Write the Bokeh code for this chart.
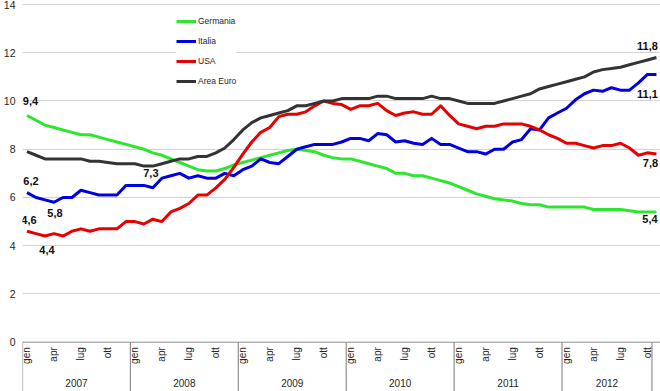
import math
from bokeh.plotting import figure
from bokeh.models import Range1d, FixedTicker, Legend, LegendItem
from bokeh.core.properties import value
from bokeh.embed import file_html
from bokeh.resources import INLINE

# ---------------- data ----------------
years = ["2007", "2008", "2009", "2010", "2011", "2012"]
month_names = ["gen", "feb", "mar", "apr", "mag", "giu",
               "lug", "ago", "set", "ott", "nov", "dic"]
shown_months = ["gen", "apr", "lug", "ott"]
axis_last = ("2012", "ott")          # last category drawn on the axis
y_ticks = [0, 2, 4, 6, 8, 10, 12, 14]

germania = [9.4, 9.2, 9.0, 8.9, 8.8, 8.7, 8.6, 8.6, 8.5, 8.4, 8.3, 8.2,
            8.1, 8.0, 7.85, 7.75, 7.6, 7.45, 7.3, 7.15, 7.1, 7.1, 7.2, 7.35,
            7.45, 7.55, 7.65, 7.75, 7.85, 7.95, 8.0, 7.95, 7.9, 7.75, 7.65, 7.6,
            7.6, 7.5, 7.4, 7.3, 7.2, 7.0, 7.0, 6.9, 6.9, 6.8, 6.7, 6.6,
            6.45, 6.3, 6.15, 6.05, 5.95, 5.9, 5.85, 5.75, 5.7, 5.7, 5.6, 5.6,
            5.6, 5.6, 5.6, 5.5, 5.5, 5.5, 5.5, 5.45, 5.4, 5.4, 5.4]
italia = [6.2, 6.0, 5.9, 5.8, 6.0, 6.0, 6.3, 6.2, 6.1, 6.1, 6.1, 6.5,
          6.5, 6.5, 6.4, 6.8, 6.9, 7.0, 6.8, 6.9, 6.8, 6.8, 7.0, 6.9,
          7.15, 7.3, 7.6, 7.45, 7.4, 7.7, 8.0, 8.1, 8.2, 8.2, 8.2, 8.3,
          8.45, 8.45, 8.35, 8.65, 8.6, 8.3, 8.35, 8.25, 8.2, 8.45, 8.2, 8.2,
          8.05, 7.9, 7.9, 7.8, 8.0, 8.0, 8.3, 8.4, 8.85, 8.8, 9.3, 9.5,
          9.7, 10.05, 10.3, 10.45, 10.4, 10.55, 10.45, 10.45, 10.75, 11.1, 11.1]
usa = [4.6, 4.5, 4.4, 4.5, 4.4, 4.6, 4.7, 4.6, 4.7, 4.7, 4.7, 5.0,
       5.0, 4.9, 5.1, 5.0, 5.4, 5.55, 5.75, 6.1, 6.1, 6.4, 6.75, 7.25,
       7.8, 8.3, 8.7, 8.9, 9.35, 9.45, 9.45, 9.55, 9.8, 10.0, 9.9, 9.85,
       9.65, 9.8, 9.8, 9.9, 9.6, 9.4, 9.5, 9.55, 9.45, 9.45, 9.8, 9.4,
       9.05, 8.95, 8.85, 8.95, 8.95, 9.05, 9.05, 9.05, 8.95, 8.8, 8.6, 8.45,
       8.25, 8.25, 8.15, 8.05, 8.15, 8.15, 8.25, 8.05, 7.75, 7.85, 7.8]
area_euro = [7.9, 7.75, 7.6, 7.6, 7.6, 7.6, 7.6, 7.5, 7.5, 7.45, 7.4, 7.4,
             7.4, 7.3, 7.3, 7.4, 7.5, 7.6, 7.6, 7.7, 7.7, 7.85, 8.05, 8.4,
             8.8, 9.1, 9.3, 9.4, 9.5, 9.6, 9.8, 9.8, 9.9, 10.0, 10.0, 10.1,
             10.1, 10.1, 10.1, 10.2, 10.2, 10.1, 10.1, 10.1, 10.1, 10.2, 10.1, 10.1,
             10.0, 9.9, 9.9, 9.9, 9.9, 10.0, 10.1, 10.2, 10.3, 10.5, 10.6, 10.7,
             10.8, 10.9, 11.0, 11.2, 11.3, 11.35, 11.4, 11.5, 11.6, 11.7, 11.8]

series = [
    ("Germania", germania, "#2ee62e"),
    ("Italia", italia, "#0000e0"),
    ("USA", usa, "#e60000"),
    ("Area Euro", area_euro, "#333333"),
]

# ---------------- categories ----------------
all_periods = [(y, m) for y in years for m in month_names]
categories = all_periods[: all_periods.index(axis_last) + 1]
n_cat = len(categories)

# ---------------- figure ----------------
W, H = 660, 391
Y_TOP, Y_BOTTOM = 14.166, -2.044
unit = (Y_TOP - Y_BOTTOM) / H          # data units per pixel (frame == canvas height)
FONT = value("Liberation Sans")
TXT = "#262626"
AXIS_COL = "#8f8f8f"

p = figure(width=W, height=H, output_backend="svg", toolbar_location=None,
           x_range=Range1d(-0.5, len(germania) - 0.55),
           y_range=Range1d(Y_BOTTOM, Y_TOP),
           x_axis_location=None, tools="",
           min_border_left=0, min_border_right=0,
           min_border_top=0, min_border_bottom=0)
p.outline_line_color = None
p.background_fill_color = "white"
p.border_fill_color = "white"

p.yaxis.ticker = FixedTicker(ticks=y_ticks)
p.yaxis.axis_line_color = None
p.yaxis.major_tick_line_color = None
p.yaxis.minor_tick_line_color = None
p.yaxis.major_tick_out = 0
p.yaxis.major_tick_in = 0
p.yaxis.minor_tick_out = 0
p.yaxis.major_label_text_font = "Liberation Sans"
p.yaxis.major_label_text_font_size = "10.5px"
p.yaxis.major_label_text_color = TXT
p.yaxis.major_label_standoff = 7

p.xgrid.visible = False
p.ygrid.ticker = FixedTicker(ticks=[t for t in y_ticks if t > 0])
p.ygrid.grid_line_color = "#d4d4d4"
p.ygrid.grid_line_width = 1

# category axis line at 0
p.segment(x0=[-0.5], y0=[0], x1=[len(germania) - 0.5], y1=[0],
          line_color=AXIS_COL, line_width=1)

# year separators
sep_x = [i - 0.5 for i, (y, m) in enumerate(categories) if m == "gen"] + [n_cat - 0.5]
p.segment(x0=sep_x, y0=[0] * len(sep_x), x1=sep_x, y1=[Y_BOTTOM] * len(sep_x),
          line_color=AXIS_COL, line_width=1.2)

# month labels (rotated)
mx = [i for i, (y, m) in enumerate(categories) if m in shown_months]
mt = [m for (y, m) in categories if m in shown_months]
p.text(x=mx, y=[-5 * unit] * len(mx), text=mt, angle=math.pi / 2,
       text_align="right", text_baseline="middle",
       text_font=FONT, text_font_size="10px", text_color=TXT)

# year labels
yx, yt = [], []
for yr in years:
    idx = [i for i, (y, m) in enumerate(categories) if y == yr]
    yx.append((idx[0] + idx[-1]) / 2)
    yt.append(yr)
p.text(x=yx, y=[-41 * unit] * len(yx), text=yt,
       text_align="center", text_baseline="middle",
       text_font=FONT, text_font_size="10px", text_color=TXT)

# series lines
renderers = []
for name, vals, col in series:
    r = p.line(x=list(range(len(vals))), y=vals, line_color=col,
               line_width=3, line_join="round")
    renderers.append((name, r))

# data labels: (series index, point index, dx, dy)
label_spec = [
    (0, 0, 3.5, -14), (1, 0, 4, -12), (1, 3, 1, 11), (2, 0, 2, -11.5),
    (2, 2, 2, 13.5), (3, 14, -2, 7),
    (3, -1, -9, -12), (1, -1, -9, 20), (2, -1, -6, 8.5), (0, -1, -6.5, 7.5),
]
for si, pi, dx, dy in label_spec:
    vals = series[si][1]
    idx = pi if pi >= 0 else len(vals) + pi
    v = vals[idx]
    p.text(x=[idx], y=[v], text=[f"{v:.1f}".replace(".", ",")],
           x_offset=dx, y_offset=dy, text_align="center", text_baseline="middle",
           text_font=FONT, text_font_size="11px", text_font_style="bold",
           text_color="#111111")

legend = Legend(items=[LegendItem(label=n, renderers=[r]) for n, r in renderers],
                location=(154, 300), orientation="vertical",
                glyph_width=20, glyph_height=20, label_height=20, spacing=0,
                label_standoff=2, padding=6, margin=0,
                label_text_font="Liberation Sans", label_text_font_size="8.5px",
                label_text_color=TXT,
                background_fill_color="white", background_fill_alpha=1.0,
                border_line_color=None)
p.add_layout(legend)

open("out.html", "w").write(file_html(p, INLINE))
